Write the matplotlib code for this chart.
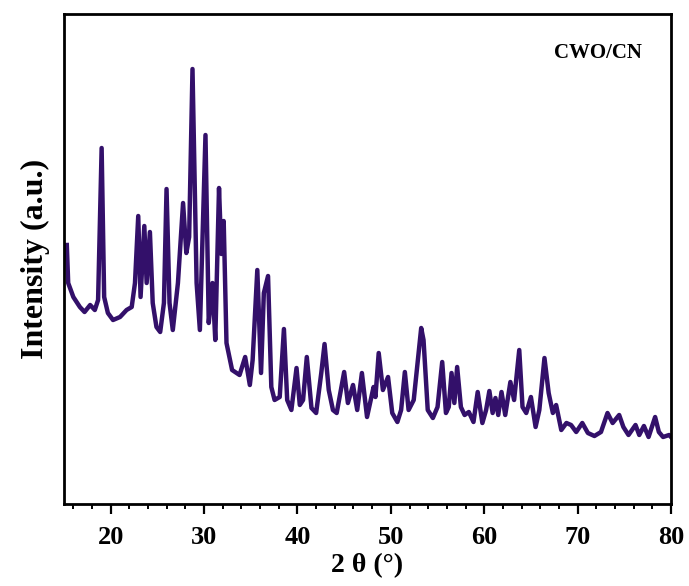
import matplotlib
matplotlib.use("Agg")
import matplotlib.pyplot as plt
from matplotlib.ticker import MultipleLocator

# 2-theta (degrees) and intensity (a.u.)
two_theta = [
    15.3, 15.45, 16.0, 16.7, 17.2, 17.8, 18.3, 18.65, 19.03, 19.3, 19.7, 20.25, 21.0, 21.7, 22.25,
    22.6, 22.95, 23.2, 23.6, 23.85, 24.2, 24.5, 24.9, 25.3, 25.7, 25.98, 26.3, 26.65, 27.2, 27.75,
    28.1, 28.4, 28.76, 29.2, 29.55, 29.8, 30.15, 30.5, 30.9, 31.2, 31.6, 31.85, 32.1, 32.4, 33.0,
    33.8, 34.4, 34.9, 35.2, 35.7, 36.1, 36.4, 36.85, 37.2, 37.55, 38.1, 38.55, 38.9, 39.35, 39.9,
    40.25, 40.6, 41.0, 41.5, 42.0, 42.55, 42.9, 43.35, 43.8, 44.2, 45.0, 45.4, 45.95, 46.4, 46.9,
    47.45, 48.15, 48.35, 48.7, 49.15, 49.7, 50.15, 50.7, 51.1, 51.5, 51.9, 52.45, 53.25, 53.5, 53.95,
    54.5, 55.0, 55.5, 55.9, 56.2, 56.5, 56.8, 57.1, 57.5, 57.9, 58.35, 58.85, 59.3, 59.8, 60.2,
    60.55, 60.9, 61.2, 61.5, 61.85, 62.25, 62.8, 63.2, 63.75, 64.1, 64.5, 65.0, 65.5, 65.9, 66.45,
    66.9, 67.35, 67.7, 68.25, 68.8, 69.3, 69.85, 70.5, 71.1, 71.8, 72.5, 73.2, 73.75, 74.45, 74.9,
    75.45, 76.2, 76.6, 77.1, 77.6, 78.3, 78.7, 79.15, 79.8, 80.0,
]
intensity = [
    259, 221, 207, 197, 192, 199, 194, 204, 356, 207, 191, 184, 187, 194, 197,
    221, 288, 207, 278, 221, 272, 201, 177, 172, 201, 315, 201, 174, 221, 301,
    251, 267, 435, 221, 174, 254, 369, 181, 221, 164, 316, 250, 283, 161, 134,
    129, 147, 119, 144, 234, 131, 211, 228, 117, 104, 107, 175, 104, 94, 136,
    99, 104, 147, 96, 91, 131, 160, 114, 94, 91, 132, 101, 119, 94, 131,
    87, 117, 107, 151, 114, 127, 91, 82, 94, 132, 94, 104, 176, 164, 94,
    86, 97, 142, 91, 97, 131, 101, 137, 97, 89, 92, 82, 112, 81, 94,
    113, 91, 106, 89, 112, 89, 122, 104, 154, 97, 91, 107, 77, 94, 146,
    111, 91, 99, 74, 81, 79, 72, 81, 71, 68, 72, 91, 81, 89, 77,
    69, 79, 69, 78, 67, 87, 72, 67, 69, 67,
]

plt.rcParams['font.family'] = ['Liberation Serif', 'DejaVu Serif']
plt.rcParams['font.weight'] = 'bold'

fig = plt.figure(figsize=(6.89, 5.86), dpi=100)
ax = fig.add_axes([64/689, 1 - 504/586, (671 - 64)/689, (504 - 14)/586])

ax.plot(two_theta, intensity, color='#33106a', lw=3.2, solid_joinstyle='round')

ax.set_xlim(15, 80)
ax.set_ylim(0, 490)
ax.xaxis.set_major_locator(MultipleLocator(10))
ax.xaxis.set_minor_locator(MultipleLocator(2))
ax.set_yticks([])
ax.tick_params(axis='x', which='major', direction='out', length=7, width=1.6,
               labelsize=19, pad=9)
ax.tick_params(axis='x', which='minor', direction='out', length=3.5, width=1.4)
for lbl in ax.get_xticklabels():
    lbl.set_fontweight('bold')
for sp in ax.spines.values():
    sp.set_linewidth(2.0)

ax.set_xlabel('2 θ (°)', fontsize=20, fontweight='bold', labelpad=3)
ax.set_ylabel('Intensity (a.u.)', fontsize=23, fontweight='bold', labelpad=10)
ax.text(0.952, 0.92, 'CWO/CN', transform=ax.transAxes, ha='right', va='center',
        fontsize=15, fontweight='bold')

fig.savefig('out.png', dpi=100)
